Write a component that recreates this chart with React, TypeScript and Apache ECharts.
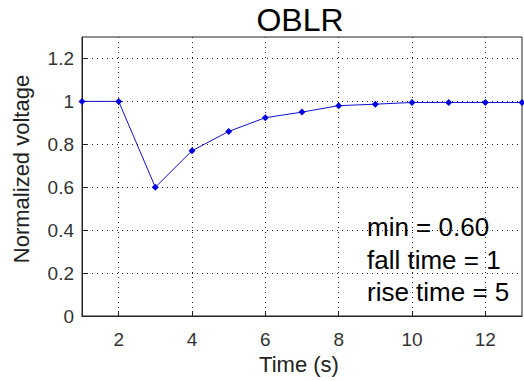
import React, { useEffect, useRef } from "react";
import * as echarts from "echarts";

const timeValues = [1, 2, 3, 4, 5, 6, 7, 8, 9, 10, 11, 12, 13];
const voltageValues = [1.0, 1.0, 0.6, 0.77, 0.86, 0.924, 0.95, 0.98, 0.987, 0.995, 0.995, 0.995, 0.995];
const xTicks = [2, 4, 6, 8, 10, 12];
const yTicks = [0, 0.2, 0.4, 0.6, 0.8, 1, 1.2];
const titleText = "OBLR";
const xName = "Time (s)";
const yName = "Normalized voltage";
const notes = ["min = 0.60", "fall time = 1", "rise time = 5"];

const FONT = "'Liberation Sans', Arial, sans-serif";

export default function App() {
  const ref = useRef<HTMLDivElement>(null);
  useEffect(() => {
    if (!ref.current) return;
    const chart = echarts.init(ref.current, null, { renderer: "svg" });
    const gridLeft = 82, gridRight = 2, gridTop = 37, gridBottom = 65;
    chart.setOption({
      animation: false,
      backgroundColor: "#fff",
      grid: {
        left: gridLeft, right: gridRight, top: gridTop, bottom: gridBottom,
        show: true, borderColor: "#222", borderWidth: 1, backgroundColor: "transparent",
      },
      xAxis: {
        type: "value", min: 1, max: 13,
        axisLine: { show: true, lineStyle: { color: "#222", width: 1 } },
        axisTick: { show: true, inside: true, length: 5, customValues: xTicks, lineStyle: { color: "#222" } },
        axisLabel: { customValues: xTicks, color: "#333", fontFamily: FONT, fontSize: 19, margin: 14 },
        splitLine: { show: true, lineStyle: { color: "#222", type: [1, 4], width: 1 } },
      },
      yAxis: {
        type: "value", min: 0, max: 1.3,
        axisLine: { show: true, lineStyle: { color: "#222", width: 1 } },
        axisTick: { show: true, inside: true, length: 5, customValues: yTicks, lineStyle: { color: "#222" } },
        axisLabel: { customValues: yTicks, color: "#333", fontFamily: FONT, fontSize: 19, margin: 8 },
        splitLine: { show: true, lineStyle: { color: "#222", type: [1, 4], width: 1 } },
      },
      series: [
        {
          type: "line",
          data: timeValues.map((t, i) => [t, voltageValues[i]]),
          symbol: "diamond",
          symbolSize: 7,
          showSymbol: true,
          lineStyle: { color: "#1010d0", width: 1 },
          itemStyle: { color: "#0000e0" },
          z: 5,
        },
      ],
      graphic: [
        {
          type: "text", x: 300, y: 20,
          style: { text: titleText, font: `32px ${FONT}`, fill: "#000", textAlign: "center", textVerticalAlign: "middle" },
        },
        {
          type: "text", x: 299, y: 364,
          style: { text: xName, font: `22px ${FONT}`, fill: "#222", textAlign: "center", textVerticalAlign: "middle" },
        },
        {
          type: "text", x: 21, y: 169, rotation: Math.PI / 2,
          style: { text: yName, font: `22px ${FONT}`, fill: "#222", textAlign: "center", textVerticalAlign: "middle" },
        },
        ...notes.map((n, i) => ({
          type: "text", x: 367, y: 240 + i * 32.5, z: 10,
          style: { text: n, font: `26px ${FONT}`, fill: "#000", textAlign: "left", textVerticalAlign: "bottom" },
        })),
      ],
    });
    return () => chart.dispose();
  }, []);
  return <div ref={ref} style={{ width: 524, height: 381, position: "absolute", left: 0, top: 0 }} />;
}
